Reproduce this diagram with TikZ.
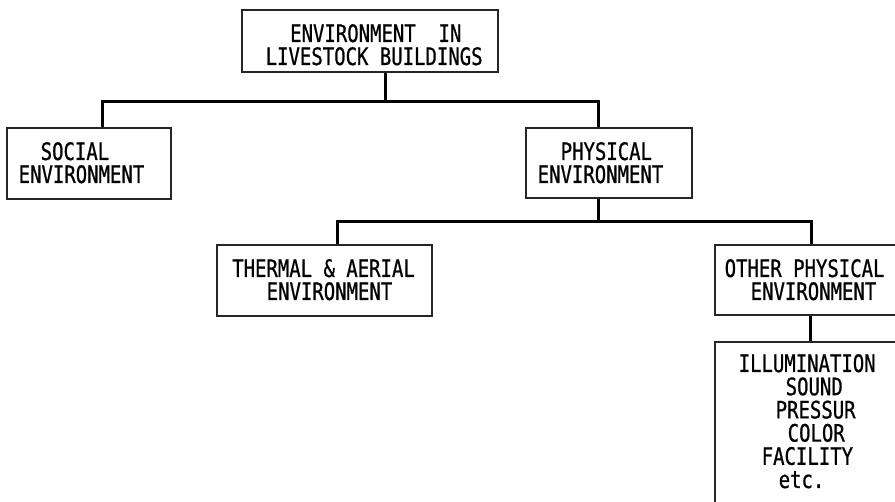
\documentclass[tikz,border=0pt]{standalone}
\usepackage{fontspec}
\newfontfamily\typefont[FakeStretch=0.79,FakeBold=0.8]{DejaVu Sans Mono}
\begin{document}
\begin{tikzpicture}[x=1pt,y=-1pt,
  boxnode/.style={draw=black!85,line width=1.1pt,inner sep=0pt,rectangle},
  txt/.style={inner sep=0pt,anchor=base west,font=\typefont\fontsize{24}{24}\selectfont},
  conn/.style={line width=3pt,black}]
\useasboundingbox (0,0) rectangle (895,502);
\clip (0,0) rectangle (895,502);
% boxes
\node[boxnode,minimum width=256pt,minimum height=62pt] (top) at (370,41) {};
\node[boxnode,minimum width=164pt,minimum height=71pt] (social) at (89,163.5) {};
\node[boxnode,minimum width=166pt,minimum height=70pt] (phys) at (609,163) {};
\node[boxnode,minimum width=215pt,minimum height=71pt] (thermal) at (324.5,280.5) {};
\node[boxnode,minimum width=190pt,minimum height=70pt] (other) at (810,280) {};
\node[boxnode,minimum width=190pt,minimum height=178pt] (bottom) at (810,431) {};
% texts
\node[txt] (top1) at (290,42) {ENVIRONMENT\phantom{XX}IN};
\node[txt] (top2) at (265.5,65) {LIVESTOCK BUILDINGS};
\node[txt] (soc1) at (40.5,160) {SOCIAL};
\node[txt] (soc2) at (18.5,183) {ENVIRONMENT};
\node[txt] (phy1) at (560.5,160) {PHYSICAL};
\node[txt] (phy2) at (537.5,183) {ENVIRONMENT};
\node[txt] (the1) at (232,277) {THERMAL \& AERIAL};
\node[txt] (the2) at (266.5,300) {ENVIRONMENT};
\node[txt] (oth1) at (724.5,277) {OTHER PHYSICAL};
\node[txt] (oth2) at (750.5,300) {ENVIRONMENT};
\node[txt] (b1) at (738.5,372) {ILLUMINATION};
\node[txt] (b2) at (785.5,395.2) {SOUND};
\node[txt] (b3) at (775.5,418.4) {PRESSUR};
\node[txt] (b4) at (787.5,441.6) {COLOR};
\node[txt] (b5) at (761.5,464.8) {FACILITY};
\node[txt] (b6) at (778.5,488) {etc.};
% connector positions
\coordinate (tx) at (385,0);
\coordinate (sx) at (102,0);
\coordinate (px) at (598,0);
\coordinate (thx) at (337,0);
\coordinate (ox) at (811,0);
\coordinate (ox2) at (810,0);
\coordinate (bus1) at (0,102);
\coordinate (bus2) at (0,222);
% connectors
\draw[conn] (top.south -| tx) -- (tx |- bus1);
\draw[conn] (social.north -| sx) |- (px |- bus1) -- (phys.north -| px);
\draw[conn] (phys.south -| px) -- (px |- bus2);
\draw[conn] (thermal.north -| thx) |- (ox |- bus2) -- (other.north -| ox);
\draw[conn] (other.south -| ox2) -- (bottom.north -| ox2);
\end{tikzpicture}
\end{document}
